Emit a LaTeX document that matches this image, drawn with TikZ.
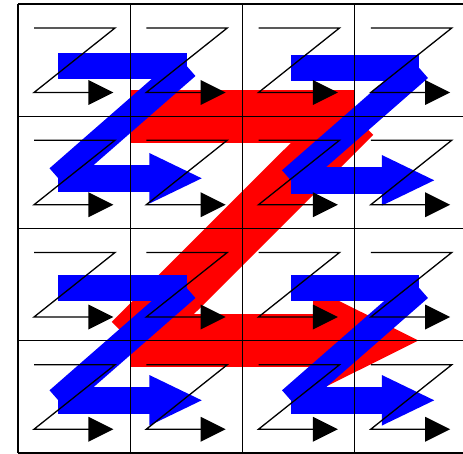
\documentclass[tikz,border=0pt]{standalone}
\tikzset{
  gridline/.style={line width=1.4pt, draw=black},
  smallz/.style={line width=1.3pt, draw=black, line join=miter},
  bluez/.style={line width=26.6pt, draw=blue, line cap=butt},
  redz/.style={line width=52.6pt, draw=red, line cap=butt},
}
\begin{document}
\begin{tikzpicture}[x=1pt,y=-1pt]
\useasboundingbox (0,0) rectangle (463,454);
\clip (0,0) rectangle (463,454);
% red big Z
\draw[redz] (130.25,116.25) -- (354.75,116.25);
\draw[redz] (354.75,116.25) -- (130.25,340.5);
\draw[redz] (130.25,340.5) -- (315,340.5);
\fill[red] (313,287.9) -- (418.3,340.5) -- (313,393.1) -- cycle;
% blue Zs
\foreach \dx/\dy in {0/0, 232.5/2, 0/222, 232.5/222}{
  \begin{scope}[shift={(\dx,\dy)}]
    \draw[bluez] (58.3,66) -- (186.7,66);
    \draw[bluez] (186.7,66) -- (58.3,178.3);
    \draw[bluez] (58.3,178.3) -- (151,178.3);
    \fill[blue] (149.3,153) -- (201.7,178.3) -- (149.3,203.6) -- cycle;
  \end{scope}
}
% small black Zs
\foreach \i in {0,...,3}{
  \foreach \j in {0,...,3}{
    \begin{scope}[shift={(18+112.25*\i,4+112.25*\j)}]
      \draw[smallz] (16,24) -- (97,24) -- (16,88.5) -- (72,88.5);
      \fill[black] (70.3,76) -- (95.3,88.5) -- (70.3,101) -- cycle;
    \end{scope}
  }
}
% grid
\foreach \k in {0,...,4}{
  \draw[gridline] (18+112.25*\k,4) -- (18+112.25*\k,453);
  \draw[gridline] (18,4+112.25*\k) -- (467,4+112.25*\k);
}
\end{tikzpicture}
\end{document}
